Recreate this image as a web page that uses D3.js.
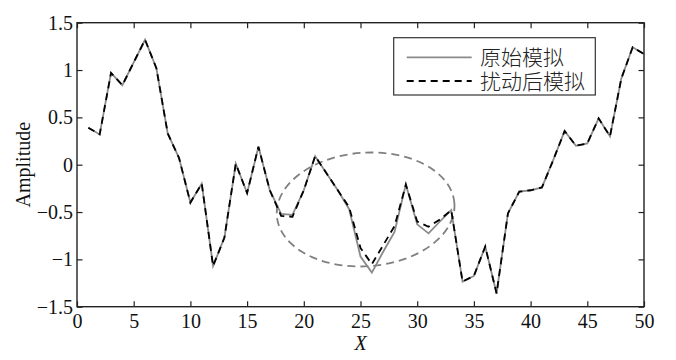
<!DOCTYPE html>
<html>
<head>
<meta charset="utf-8">
<script src="https://cdn.jsdelivr.net/npm/d3@7"></script>
<style>
  html, body { margin: 0; padding: 0; background: #fff; }
  svg { display: block; }
</style>
</head>
<body>
<svg id="chart" width="676" height="360"></svg>
<script>
// ---- data ----
const xs = d3.range(1, 51);
const original = [0.39, 0.32, 0.97, 0.84, 1.08, 1.32, 1.02, 0.33, 0.07, -0.40,
                  -0.20, -1.07, -0.77, 0.01, -0.30, 0.19, -0.27, -0.52, -0.53, -0.27,
                  0.09, -0.09, -0.27, -0.47, -0.97, -1.14, -0.92, -0.71, -0.21, -0.63,
                  -0.725, -0.60, -0.48, -1.235, -1.175, -0.865, -1.36, -0.515, -0.285, -0.27,
                  -0.24, 0.05, 0.356, 0.20, 0.225, 0.49, 0.30, 0.91, 1.24, 1.17];
const perturbed = [0.39, 0.32, 0.97, 0.84, 1.08, 1.32, 1.02, 0.33, 0.07, -0.40,
                  -0.20, -1.07, -0.77, 0.01, -0.30, 0.19, -0.27, -0.54, -0.55, -0.27,
                  0.09, -0.09, -0.27, -0.45, -0.88, -1.05, -0.85, -0.65, -0.21, -0.60,
                  -0.655, -0.58, -0.48, -1.235, -1.175, -0.865, -1.36, -0.515, -0.285, -0.27,
                  -0.24, 0.05, 0.356, 0.20, 0.225, 0.49, 0.30, 0.91, 1.24, 1.17];
const xTicks = [0, 5, 10, 15, 20, 25, 30, 35, 40, 45, 50];
const yTicks = [-1.5, -1, -0.5, 0, 0.5, 1, 1.5];
const seriesNames = ["原始模拟", "扰动后模拟"];
// highlighted region (data units): center x, center y, half-width, half-height
const ellipseRegion = { cx: 25.45, cy: -0.473, rx: 7.85, ry: 0.6 };

// ---- layout ----
const L = 77, R = 644, T = 22.7, B = 306.7;
const svg = d3.select("#chart");
const x = d3.scaleLinear().domain([0, 50]).range([L, R]);
const y = d3.scaleLinear().domain([-1.5, 1.5]).range([B, T]);
const serif = "'Liberation Serif', 'Times New Roman', serif";
const axisColor = "#222";

// ellipse
const ex = x(ellipseRegion.cx), ey = y(ellipseRegion.cy);
svg.append("ellipse")
  .attr("cx", ex).attr("cy", ey)
  .attr("rx", x(ellipseRegion.cx + ellipseRegion.rx) - ex)
  .attr("ry", ey - y(ellipseRegion.cy + ellipseRegion.ry))
  .attr("transform", `rotate(-4 ${ex} ${ey})`)
  .attr("fill", "none")
  .attr("stroke", "#808080")
  .attr("stroke-width", 1.8)
  .attr("stroke-dasharray", "8,5");

// series lines
const line = d3.line().x((d, i) => x(xs[i])).y(d => y(d));
svg.append("path").datum(original)
  .attr("d", line).attr("fill", "none")
  .attr("stroke", "#8a8a8a").attr("stroke-width", 1.8);
svg.append("path").datum(perturbed)
  .attr("d", line).attr("fill", "none")
  .attr("stroke", "#000").attr("stroke-width", 1.8)
  .attr("stroke-dasharray", "7,5");

// axes box with inward ticks
const tickLen = 5.5;
const gB = svg.append("g").attr("transform", `translate(0,${B})`)
  .call(d3.axisBottom(x).tickValues(xTicks).tickSizeInner(-tickLen).tickSizeOuter(0).tickPadding(9).tickFormat(d3.format("d")));
const gT = svg.append("g").attr("transform", `translate(0,${T})`)
  .call(d3.axisTop(x).tickValues(xTicks).tickSizeInner(-tickLen).tickSizeOuter(0).tickFormat(""));
const gL = svg.append("g").attr("transform", `translate(${L},0)`)
  .call(d3.axisLeft(y).tickValues(yTicks).tickSizeInner(-tickLen).tickSizeOuter(0).tickPadding(4).tickFormat(d => d3.format("")(d)));
const gR = svg.append("g").attr("transform", `translate(${R},0)`)
  .call(d3.axisRight(y).tickValues(yTicks).tickSizeInner(-tickLen).tickSizeOuter(0).tickFormat(""));
[gB, gT, gL, gR].forEach(g => {
  g.select(".domain").remove();
  g.selectAll(".tick line").attr("stroke", axisColor).attr("stroke-width", 1.2);
  g.selectAll("text").attr("font-family", serif).attr("font-size", 20).attr("fill", "#111");
});
gB.selectAll(".tick text").attr("dy", "0.62em");
svg.append("rect").attr("x", L).attr("y", T).attr("width", R - L).attr("height", B - T)
  .attr("fill", "none").attr("stroke", axisColor).attr("stroke-width", 1.4);

// axis labels
svg.append("text").attr("transform", `translate(23,${(T + B) / 2}) rotate(-90)`)
  .attr("text-anchor", "middle").attr("dy", "0.35em")
  .attr("font-family", serif).attr("font-size", 20).attr("fill", "#111").text("Amplitude");
svg.append("text").attr("x", x(25)).attr("y", 350)
  .attr("text-anchor", "middle").attr("font-family", serif).attr("font-style", "italic")
  .attr("font-size", 20).attr("fill", "#111").text("X");

// legend
const lg = svg.append("g");
lg.append("rect").attr("x", 393.7).attr("y", 37.7).attr("width", 201.6).attr("height", 57.3)
  .attr("fill", "#fff").attr("stroke", "#333").attr("stroke-width", 1.2);
const legendY = [57.3, 81];
lg.append("line").attr("x1", 406.7).attr("x2", 471.7).attr("y1", legendY[0]).attr("y2", legendY[0])
  .attr("stroke", "#8a8a8a").attr("stroke-width", 1.8);
lg.append("line").attr("x1", 406.7).attr("x2", 471.7).attr("y1", legendY[1]).attr("y2", legendY[1])
  .attr("stroke", "#000").attr("stroke-width", 1.8).attr("stroke-dasharray", "7,5");
seriesNames.forEach((name, i) => {
  lg.append("text").attr("x", 480).attr("y", legendY[i]).attr("dy", "0.36em")
    .attr("font-family", "'Noto Sans CJK SC', sans-serif").attr("font-size", 21)
    .attr("font-weight", 300)
    .attr("fill", "#222").text(name);
});
</script>
</body>
</html>
